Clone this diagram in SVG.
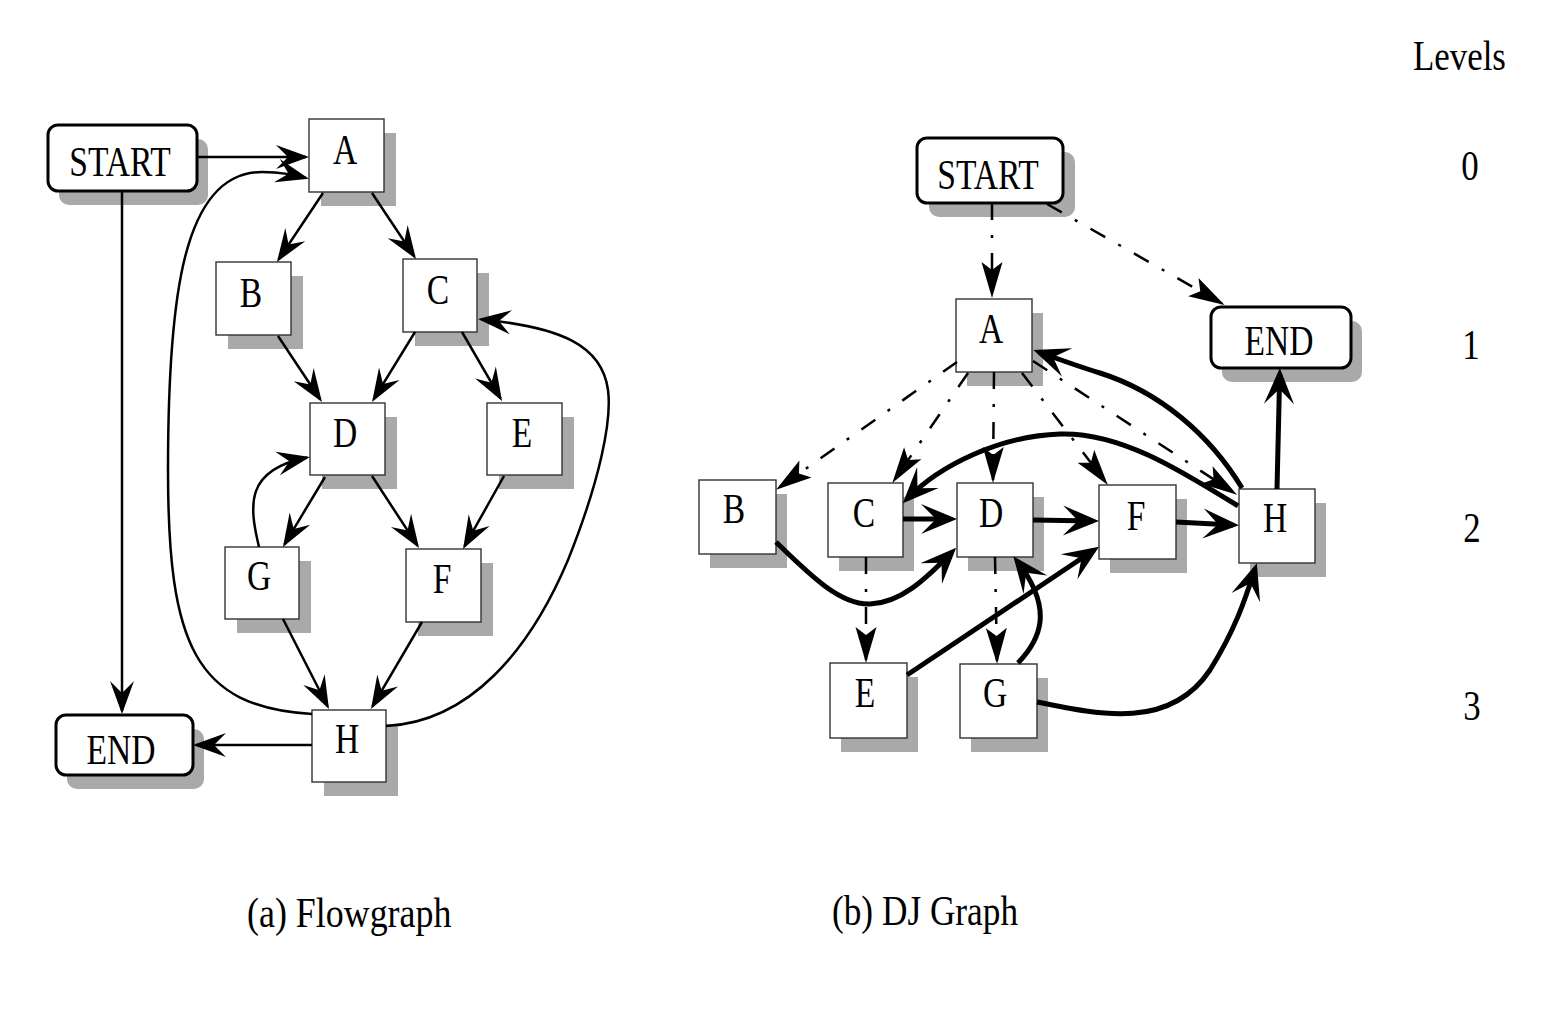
<svg xmlns="http://www.w3.org/2000/svg" width="1546" height="1010" viewBox="0 0 1546 1010">
<style>
.bg{fill:#fff}
.sh{fill:#a9a9a9}
.box{fill:#fff;stroke:#333;stroke-width:1.4}
.rbox{fill:#fff;stroke:#000;stroke-width:3}
.lbl{font-family:'Liberation Serif','Times New Roman',serif;font-size:43px;text-anchor:middle;fill:#000}
.lev{font-family:'Liberation Serif','Times New Roman',serif;font-size:42px;fill:#000}
.cap{font-family:'Liberation Serif','Times New Roman',serif;font-size:43px;fill:#000}
.e1{fill:none;stroke:#000;stroke-width:2.5}
.e2{fill:none;stroke:#000;stroke-width:2.5;stroke-dasharray:17 15 3 15}
.e3{fill:none;stroke:#000;stroke-width:5}
</style>
<defs>
<marker id="ah" markerUnits="userSpaceOnUse" orient="auto" refX="0" refY="0" markerWidth="40" markerHeight="30" viewBox="-35 -15 40 30" overflow="visible"><path d="M3,0 L-30,-12 L-18,0 L-30,12 Z" fill="#000"/></marker>
<marker id="ahd" markerUnits="userSpaceOnUse" orient="auto" refX="0" refY="0" markerWidth="40" markerHeight="30" viewBox="-35 -15 40 30" overflow="visible"><path d="M3,0 L-33,-10.5 L-25,0 L-33,10.5 Z" fill="#000"/></marker>
<marker id="aht" markerUnits="userSpaceOnUse" orient="auto" refX="0" refY="0" markerWidth="44" markerHeight="34" viewBox="-36 -17 44 34" overflow="visible"><path d="M6,0 L-30,-15 L-15,0 L-30,15 Z" fill="#000"/></marker>
</defs>
<rect class="bg" x="0" y="0" width="1546" height="1010"/>

<!-- Left: Flowgraph nodes -->
<g id="a-start"><rect class="sh" x="59" y="139" width="149" height="66" rx="10"/><rect class="rbox" x="48" y="125" width="149" height="66" rx="10"/><text class="lbl" transform="translate(120,176) scale(0.78,1)">START</text></g>
<g id="a-A"><rect class="sh" x="321" y="133" width="75" height="73"/><rect class="box" x="309" y="119" width="75" height="73"/><text class="lbl" transform="translate(345,164) scale(0.78,1)">A</text></g>
<g id="a-B"><rect class="sh" x="228" y="276" width="75" height="73"/><rect class="box" x="216" y="262" width="75" height="73"/><text class="lbl" transform="translate(251,307) scale(0.78,1)">B</text></g>
<g id="a-C"><rect class="sh" x="415" y="273" width="74" height="73"/><rect class="box" x="403" y="259" width="74" height="73"/><text class="lbl" transform="translate(438,304) scale(0.78,1)">C</text></g>
<g id="a-D"><rect class="sh" x="322" y="417" width="75" height="72"/><rect class="box" x="310" y="403" width="75" height="72"/><text class="lbl" transform="translate(345,447) scale(0.78,1)">D</text></g>
<g id="a-E"><rect class="sh" x="499" y="417" width="75" height="72"/><rect class="box" x="487" y="403" width="75" height="72"/><text class="lbl" transform="translate(522,447) scale(0.78,1)">E</text></g>
<g id="a-G"><rect class="sh" x="237" y="561" width="74" height="72"/><rect class="box" x="225" y="547" width="74" height="72"/><text class="lbl" transform="translate(259,590) scale(0.78,1)">G</text></g>
<g id="a-F"><rect class="sh" x="418" y="563" width="75" height="73"/><rect class="box" x="406" y="549" width="75" height="73"/><text class="lbl" transform="translate(442,593) scale(0.78,1)">F</text></g>
<g id="a-H"><rect class="sh" x="324" y="724" width="74" height="72"/><rect class="box" x="312" y="710" width="74" height="72"/><text class="lbl" transform="translate(347,753) scale(0.78,1)">H</text></g>
<g id="a-end"><rect class="sh" x="67" y="729" width="137" height="60" rx="10"/><rect class="rbox" x="56" y="715" width="137" height="60" rx="10"/><text class="lbl" transform="translate(121,764) scale(0.78,1)">END</text></g>

<!-- Right: DJ graph nodes -->
<g id="b-start"><rect class="sh" x="929" y="152" width="146" height="65" rx="10"/><rect class="rbox" x="917" y="138" width="146" height="65" rx="10"/><text class="lbl" transform="translate(988,189) scale(0.78,1)">START</text></g>
<g id="b-A"><rect class="sh" x="967" y="313" width="76" height="73"/><rect class="box" x="956" y="299" width="76" height="73"/><text class="lbl" transform="translate(991,343) scale(0.78,1)">A</text></g>
<g id="b-end"><rect class="sh" x="1222" y="321" width="140" height="61" rx="10"/><rect class="rbox" x="1211" y="307" width="140" height="61" rx="10"/><text class="lbl" transform="translate(1279,355) scale(0.78,1)">END</text></g>
<g id="b-B"><rect class="sh" x="710" y="494" width="77" height="74"/><rect class="box" x="699" y="480" width="77" height="74"/><text class="lbl" transform="translate(734,523) scale(0.78,1)">B</text></g>
<g id="b-C"><rect class="sh" x="839" y="497" width="75" height="74"/><rect class="box" x="828" y="483" width="75" height="74"/><text class="lbl" transform="translate(864,527) scale(0.78,1)">C</text></g>
<g id="b-D"><rect class="sh" x="968" y="497" width="76" height="74"/><rect class="box" x="957" y="483" width="76" height="74"/><text class="lbl" transform="translate(991,527) scale(0.78,1)">D</text></g>
<g id="b-F"><rect class="sh" x="1110" y="499" width="77" height="74"/><rect class="box" x="1099" y="485" width="77" height="74"/><text class="lbl" transform="translate(1136,530) scale(0.78,1)">F</text></g>
<g id="b-H"><rect class="sh" x="1250" y="503" width="76" height="74"/><rect class="box" x="1239" y="489" width="76" height="74"/><text class="lbl" transform="translate(1275,532) scale(0.78,1)">H</text></g>
<g id="b-E"><rect class="sh" x="841" y="677" width="77" height="75"/><rect class="box" x="830" y="663" width="77" height="75"/><text class="lbl" transform="translate(865,707) scale(0.78,1)">E</text></g>
<g id="b-G"><rect class="sh" x="971" y="678" width="77" height="74"/><rect class="box" x="960" y="664" width="77" height="74"/><text class="lbl" transform="translate(995,707) scale(0.78,1)">G</text></g>

<!-- Connectors -->
<g id="connectors">
<g id="flow-edges">
<path class="e1" marker-end="url(#ah)" d="M197,157 L306,157"/>
<path class="e1" marker-end="url(#ah)" d="M312,714 C195,707 168,645 168,470 C168,300 182,172 262,172 C282,172 294,175 306,178"/>
<path class="e1" marker-end="url(#ah)" d="M323,193 L278.6,259.5"/>
<path class="e1" marker-end="url(#ah)" d="M372,193 L414.3,256.5"/>
<path class="e1" marker-end="url(#ah)" d="M278,336 L320.3,399.5"/>
<path class="e1" marker-end="url(#ah)" d="M415,332 L373.6,399.4"/>
<path class="e1" marker-end="url(#ah)" d="M462,332 L500.5,398.4"/>
<path class="e1" marker-end="url(#ah)" d="M325,477 L284.5,544.4"/>
<path class="e1" marker-end="url(#ah)" d="M372,476 L417.4,545.5"/>
<path class="e1" marker-end="url(#ah)" d="M504,476 L464.5,546.4"/>
<path class="e1" marker-end="url(#ah)" d="M259,547 C249,505 245,470 307,457.6"/>
<path class="e1" marker-end="url(#ah)" d="M283,619 L327.6,706.3"/>
<path class="e1" marker-end="url(#ah)" d="M422,622 L372.5,706.4"/>
<path class="e1" marker-end="url(#ah)" d="M312,745 L196,745"/>
<path class="e1" marker-end="url(#ah)" d="M386,726 C470,722 530,650 568,560 C600,480 612,420 608,390 C602,345 560,327 481,319.3"/>
<path class="e1" marker-end="url(#ah)" d="M122,191 L122,711"/>
</g>
<g id="dj-dedges">
<path class="e2" marker-end="url(#ahd)" d="M992,203 L992,295"/>
<path class="e2" marker-end="url(#ahd)" d="M1047,204 L1222,303.5"/>
<path class="e2" marker-end="url(#ahd)" d="M957,362 L778.5,488"/>
<path class="e2" marker-end="url(#ahd)" d="M968,373 L894,480.5"/>
<path class="e2" marker-end="url(#ahd)" d="M994,372 L993,480"/>
<path class="e2" marker-end="url(#ahd)" d="M1022,373 L1106,482.5"/>
<path class="e2" marker-end="url(#ahd)" d="M1033,361 L1234.5,493"/>
<path class="e2" marker-end="url(#ahd)" d="M866,557 L866,660"/>
<path class="e2" marker-end="url(#ahd)" d="M995,557 L997,661"/>
</g>
<g id="dj-jedges">
<path class="e3" marker-end="url(#aht)" d="M903,519 L951,519"/>
<path class="e3" marker-end="url(#aht)" d="M1033,520 L1093,521"/>
<path class="e3" marker-end="url(#aht)" d="M1176,522 L1233,525"/>
<path class="e3" marker-end="url(#aht)" d="M1277,489 L1279.7,374"/>
<path class="e3" marker-end="url(#aht)" d="M1242,488 C1210,435 1160,392 1100,373 C1077,366 1058,359 1039,352"/>
<path class="e3" marker-end="url(#aht)" d="M1238,506 C1180,470 1120,432 1060,434 C1000,436 940,465 907,499"/>
<path class="e3" marker-end="url(#aht)" d="M776,542 C810,575 840,605 870,604 C900,603 925,580 952,552"/>
<path class="e3" marker-end="url(#aht)" d="M907,675 L1094,550"/>
<path class="e3" marker-end="url(#aht)" d="M1018,663 C1040,640 1055,610 1017,561"/>
<path class="e3" marker-end="url(#aht)" d="M1037,702 C1100,715 1170,730 1210,670 C1235,630 1245,600 1255,569"/>
</g>
</g>

<!-- Levels -->
<g id="levels">
<text class="lev" transform="translate(1413,70) scale(0.83,1)">Levels</text>
<text class="lev" text-anchor="middle" transform="translate(1470,180) scale(0.83,1)">0</text>
<text class="lev" text-anchor="middle" transform="translate(1471,359) scale(0.83,1)">1</text>
<text class="lev" text-anchor="middle" transform="translate(1472,542) scale(0.83,1)">2</text>
<text class="lev" text-anchor="middle" transform="translate(1472,720) scale(0.83,1)">3</text>
</g>

<!-- Captions -->
<text class="cap" transform="translate(247,927) scale(0.835,1)">(a) Flowgraph</text>
<text class="cap" transform="translate(832,925) scale(0.82,1)">(b) DJ Graph</text>
</svg>
